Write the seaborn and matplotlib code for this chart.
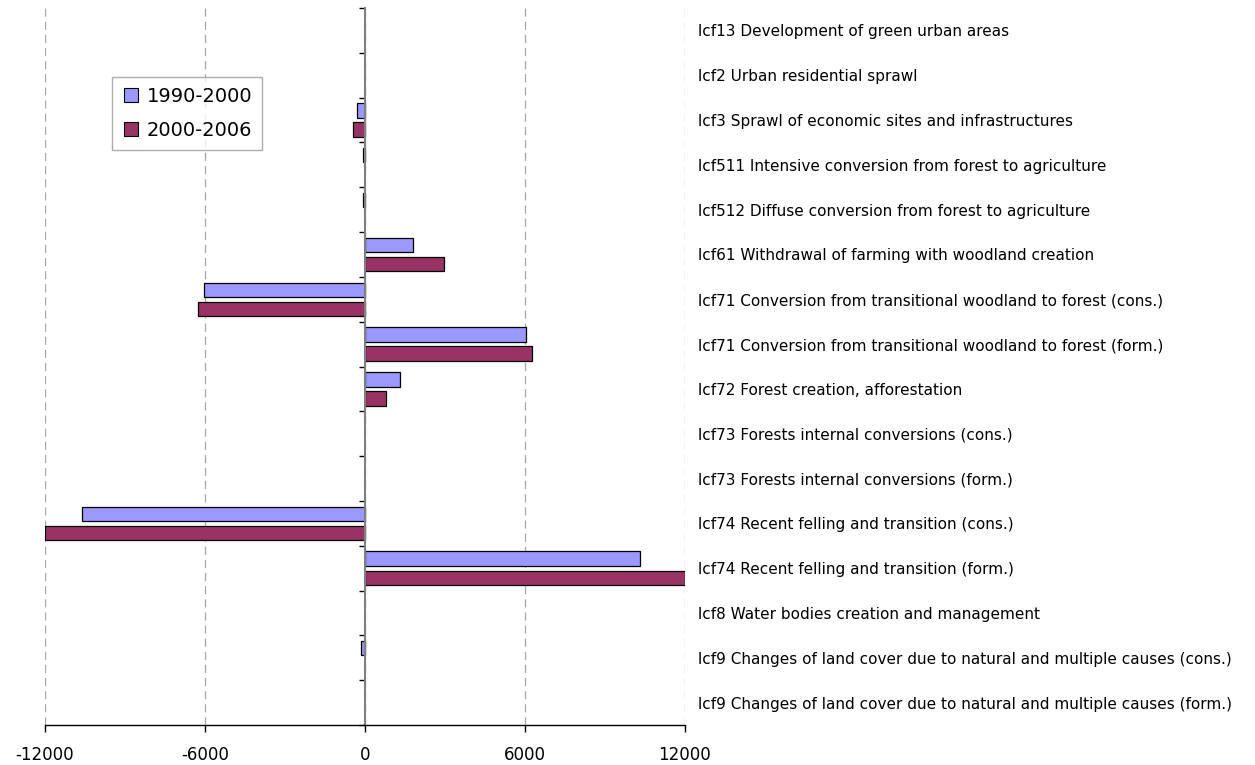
import numpy as np
import pandas as pd
import seaborn as sns
import matplotlib.pyplot as plt
from matplotlib.lines import Line2D
from matplotlib.ticker import FixedLocator

categories = [
    'lcf13 Development of green urban areas',
    'lcf2 Urban residential sprawl',
    'lcf3 Sprawl of economic sites and infrastructures',
    'lcf511 Intensive conversion from forest to agriculture',
    'lcf512 Diffuse conversion from forest to agriculture',
    'lcf61 Withdrawal of farming with woodland creation',
    'lcf71 Conversion from transitional woodland to forest (cons.)',
    'lcf71 Conversion from transitional woodland to forest (form.)',
    'lcf72 Forest creation, afforestation',
    'lcf73 Forests internal conversions (cons.)',
    'lcf73 Forests internal conversions (form.)',
    'lcf74 Recent felling and transition (cons.)',
    'lcf74 Recent felling and transition (form.)',
    'lcf8 Water bodies creation and management',
    'lcf9 Changes of land cover due to natural and multiple causes (cons.)',
    'lcf9 Changes of land cover due to natural and multiple causes (form.)',
]
periods = ['1990-2000', '2000-2006']
v_1990_2000 = [np.nan, np.nan, -300, -80, -80, 1800, -6050, 6050, 1310,
               np.nan, np.nan, -10600, 10300, np.nan, -150, np.nan]
v_2000_2006 = [np.nan, np.nan, -450, np.nan, np.nan, 2980, -6250, 6250, 790,
               np.nan, np.nan, -12000, 12000, np.nan, np.nan, np.nan]
colors = ['#9999FF', '#993366']
xticks = [-12000, -6000, 0, 6000, 12000]

df = pd.DataFrame({
    'cat': categories * 2,
    'period': [periods[0]] * len(categories) + [periods[1]] * len(categories),
    'value': v_1990_2000 + v_2000_2006,
})

sns.set_style('white')
plt.rcParams['font.family'] = ['DejaVu Sans']
plt.rcParams['text.color'] = 'black'
plt.rcParams['xtick.color'] = 'black'
plt.rcParams['ytick.color'] = 'black'

fig, ax = plt.subplots(figsize=(12.55, 7.65), dpi=100)
fig.subplots_adjust(left=45 / 1255, right=685 / 1255, top=1 - 8 / 765, bottom=1 - 725 / 765)

sns.barplot(data=df, x='value', y='cat', hue='period', order=categories, hue_order=periods,
            palette=colors, saturation=1, orient='h', width=0.85, gap=0.25,
            edgecolor='black', linewidth=0.9, errorbar=None, legend=False, ax=ax)

ax.set_xlim(-12000, 12000)
ax.set_xticks(xticks)
ax.set_xticklabels([str(t) for t in xticks])
ax.set_xlabel('')
ax.set_ylabel('')
ax.xaxis.grid(True, color='#a6a6a6', linestyle=(0, (6.5, 4)), linewidth=0.9)
ax.yaxis.grid(False)

# 零轴
ax.spines['left'].set_position(('data', 0))
ax.spines['left'].set_color('#808080')
ax.spines['left'].set_linewidth(1.5)
ax.spines['right'].set_visible(False)
ax.spines['top'].set_visible(False)
ax.spines['bottom'].set_color('black')
ax.spines['bottom'].set_linewidth(1)

ax.tick_params(axis='x', which='major', bottom=True, length=5, width=1, color='black',
               labelsize=12, pad=10, labelcolor='black')
ax.yaxis.set_minor_locator(FixedLocator(np.arange(-0.5, len(categories), 1)))
ax.tick_params(axis='y', which='major', left=False, right=False, length=0,
               labelleft=False, labelright=True, labelsize=11, pad=9.5, labelcolor='black')
ax.tick_params(axis='y', which='minor', left=True, right=False, length=4, width=1, color='black')

handles = [Line2D([], [], marker='s', linestyle='', markerfacecolor=c, markeredgecolor='black',
                  markeredgewidth=0.8, markersize=10) for c in colors]
leg = ax.legend(handles, periods, loc='upper left',
                bbox_to_anchor=((112 - 45) / 640, (725 - 77) / 717), borderaxespad=0,
                fancybox=False, frameon=True, fontsize=14, handletextpad=0.3, handlelength=1.0,
                labelspacing=0.8, borderpad=0.5)
leg.get_frame().set_edgecolor('#999999')
leg.get_frame().set_linewidth(1)

plt.savefig('out.png', dpi=100)
